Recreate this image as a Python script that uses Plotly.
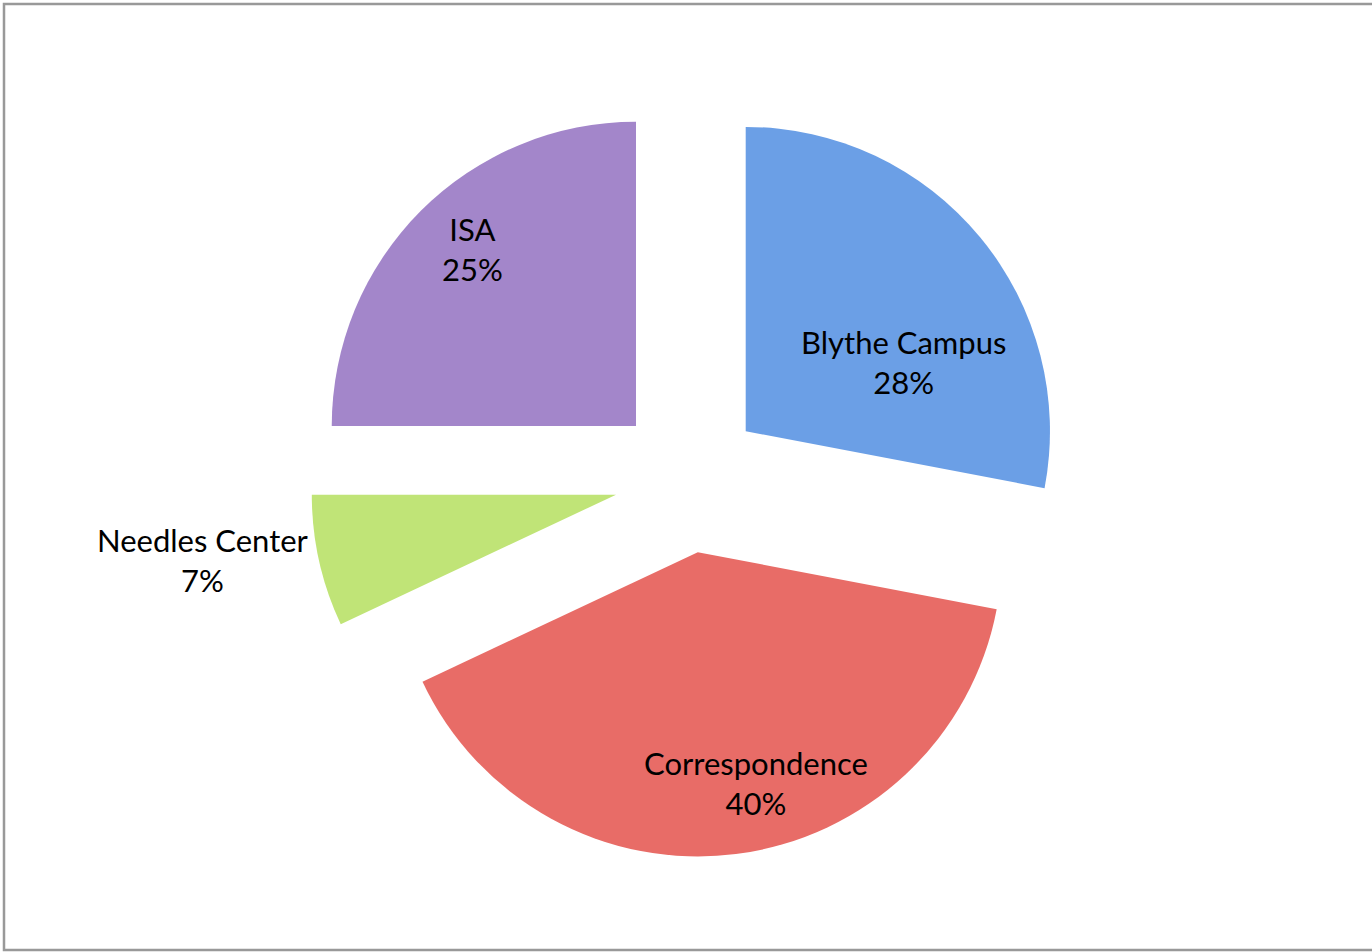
import plotly.graph_objects as go

labels = ["Blythe Campus", "Correspondence", "Needles Center", "ISA"]
values = [28, 40, 7, 25]
colors = ["#6B9FE6", "#E86C67", "#C0E477", "#A386CA"]
pulls = [0.244, 0.244, 0.244, 0.244]
# label centres (page pixels) — layout only
label_px = [(903, 362), (756, 783), (203, 560), (472, 249)]

W, H = 1372, 952
ML, MR, MT, MB = 310, 305, 100, 95
PW, PH = W - ML - MR, H - MT - MB

def px_x(x):
    return (x - ML) / PW

def px_y(y):
    return 1 - (y - MT) / PH

total = sum(values)
annotations = [
    dict(
        x=px_x(px), y=px_y(py), xref="paper", yref="paper",
        text=f"{lab}<br>{round(100 * v / total)}%",
        showarrow=False, xanchor="center", yanchor="middle", align="center",
        font=dict(family="Lato, Liberation Sans, sans-serif", size=31, color="#000000"),
    )
    for lab, v, (px, py) in zip(labels, values, label_px)
]

fig = go.Figure(go.Pie(
    labels=labels,
    values=values,
    sort=False,
    direction="clockwise",
    rotation=0,
    pull=pulls,
    marker=dict(colors=colors, line=dict(width=0)),
    textinfo="none",
    showlegend=False,
    hoverinfo="label+percent",
))

fig.update_layout(
    width=W, height=H,
    margin=dict(l=ML, r=MR, t=MT, b=MB, autoexpand=False),
    paper_bgcolor="white",
    plot_bgcolor="white",
    annotations=annotations,
    shapes=[dict(
        type="rect", xref="paper", yref="paper",
        x0=px_x(4), x1=px_x(1376), y0=px_y(4), y1=px_y(950),
        line=dict(color="#999999", width=2.5), fillcolor="rgba(0,0,0,0)",
        layer="below",
    )],
)

fig.write_html("out.html", config={"displayModeBar": False},
               post_script="document.body.style.margin='0px';")
